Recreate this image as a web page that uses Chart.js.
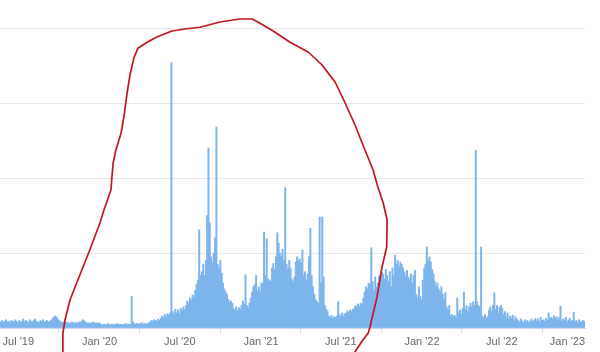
<!DOCTYPE html>
<html><head><meta charset="utf-8">
<script src="https://cdn.jsdelivr.net/npm/chart.js@4.4.0/dist/chart.umd.min.js"></script>
<style>html,body{margin:0;padding:0;background:#fff}#wrap{width:600px;height:352px}</style>
</head><body>
<div id="wrap"><canvas id="c" width="600" height="352"></canvas></div>
<script>
// Day offsets are counted from 1 Jul 2019. Each bar is a 3-day bucket.
const firstBucketCentre = -40;
const bucketDays = 3;

const valsMay19_Jan20 = [8,10,7,9,11,8,9,7,10,9, 8,11,9,7,10,8,9,12,8,10, 9,7,11,9,8,10,12,9,8,7, 10,9,11,8,9,10,8,9,
  10,12,14,16,15,13,10,9, 7,8,6,7,8,7,6,7,8,6,7,7,6,8,7, 9,11,10,8, 7,6,7,6,7,8,6,7,6,7,6];
const valsJan20_Aug20 = [5,4,5,5,4,6,5,4,5,5, 4,5,6,4,5,5,4,5,5,6, 4,5,5, 42,
  8,6,5,6,5,6,5,7,5,6,5,6,7, 8,10,9,11,10,9,12,10, 13,16,14,18,15,19,17,20, 354,
  22,18,25,20,24,19,26,23,28,25, 30,36,33,40,37,44,41, 50,58,64,131,70];
const valsAug20_Mar21 = [75,85,70,90,150,240,140,95,88,100, 120,268,85,80,90,73,60,52,48,45,
  38,34,36,33,26,24,28,23,27,25, 30,36,32,71,30,27,33,40,48,55, 58,70,50,55,48,60,60,128,70,119,
  65,64,62,80,86,78,95,127,113,100, 95,105,90,187,85,78,90,80,65,62, 68,88,95,90,92];
const valsApr21_Nov21 = [87,104,70,75,64,72,95,133,70,55, 45,38,35,33,148,60,148,68,30,25,
  22,16,14,17,13,15,14,16,35,18, 15,20,16,19,20,23,21,24,22,25, 26,30,28,32,29,33,31,40,48,55,
  52,60,58,107,62,50,68,55,60,70, 65,75,72,65,78,70,62,75,55,80, 70,97,85,90,82,88];
const valsNov21_Jun22 = [85,80,75,70,77,68,65,72,60,70, 77,45,40,55,42,38,64,80,85,108,
  90,95,88,78,72,62,55,60,52,48, 55,45,38,47,28,24,30,16,18,15, 17,14,40,20,24,18,26,48,25,30,
  22,28,33,28,35,30,237,35,30,28, 108,16,14,18,13,15,24,28,22,30, 47,25,30,20,28];
const valsJun22_Jan23 = [30,26, 18,22,14,20,12,16,13,17,11,15,12, 10,8,12,9,7,11,8,10,7,9,12,8,
  10,13,9,12,8,14,10,11,9,13,10,20,12, 14,12,16,13,15,11,14, 29, 9,12,10,14,8,11,13,9,10, 21,
  8,10,7,11,9,8,10,9];

const tickMonths = [[2019,6],[2020,0],[2020,6],[2021,0],[2021,6],[2022,0],[2022,6],[2023,0]];
const tickLabels = ["Jul '19","Jan '20","Jul '20","Jan '21","Jul '21","Jan '22","Jul '22","Jan '23"];
const yMax = 400, yStep = 100;

// Hand-drawn red loop annotation, in data units [day offset, value]
const annotationPath = [[101,-32],[101,-7],[106,11],[117,37],[133,61],[162,104],[185,140],[194,157],
  [210,184],[212,200],[215,220],[221,237],[233,260],[240,284],[246,311],[253,337],[262,360],[271,373],
  [292,381],[314,388],[348,396],[382,399],[412,401],[457,408],[502,412],[530,412],[543,408],[575,397],
  [616,381],[657,368],[688,351],[718,328],[740,301],[763,271],[786,237],[804,211],[815,188],[827,167],
  [836,144],[835,108],[824,80],[813,41],[797,1],[793,-7],[781,-16],[763,-32]];

const allVals = [].concat(valsMay19_Jan20, valsJan20_Aug20, valsAug20_Mar21, valsApr21_Nov21, valsNov21_Jun22, valsJun22_Jan23);
const points = allVals.map((v,i)=>({x: firstBucketCentre + bucketDays*i, y: v}));
const base = Date.UTC(2019,6,1);
const tickDays = tickMonths.map(([y,m])=>Math.round((Date.UTC(y,m,1)-base)/864e5));
const xMin = firstBucketCentre - bucketDays/2;
const xMax = firstBucketCentre + bucketDays*(allVals.length-1) + bucketDays/2;

const overlay = {
  id: 'overlay',
  afterDraw(chart) {
    const {ctx, chartArea, scales:{x, y}} = chart;
    ctx.save();
    ctx.font = '11px "Liberation Sans", Arial, sans-serif';
    ctx.fillStyle = '#666666';
    ctx.textBaseline = 'middle';
    tickDays.forEach((d,i)=>{
      const px = x.getPixelForValue(d);
      const w = ctx.measureText(tickLabels[i]).width;
      const left = Math.max(0, Math.min(px - w/2, chartArea.right - w));
      ctx.fillText(tickLabels[i], left, chartArea.bottom + 14);
    });
    ctx.strokeStyle = '#c0161e';
    ctx.lineWidth = 1.7;
    ctx.lineJoin = 'round'; ctx.lineCap = 'round';
    ctx.beginPath();
    annotationPath.forEach(([d,v],i)=>{
      const px = x.getPixelForValue(d), py = y.getPixelForValue(v);
      if (i) ctx.lineTo(px,py); else ctx.moveTo(px,py);
    });
    ctx.stroke();
    ctx.restore();
  }
};

new Chart(document.getElementById('c'), {
  type: 'bar',
  data: { datasets: [{ data: points, backgroundColor: '#7cb5ec', borderWidth: 0,
    barPercentage: 1, categoryPercentage: 1 }] },
  options: {
    responsive: false, animation: false,
    layout: { padding: { top: 28, right: 15, left: 0, bottom: 0 } },
    plugins: { legend: { display: false }, tooltip: { enabled: false } },
    scales: {
      x: { type: 'linear', min: xMin, max: xMax, offset: false,
        afterBuildTicks: s => { s.ticks = tickDays.map(v=>({value:v})); },
        afterFit: s => { s.height = 24; s.paddingLeft = 0; s.paddingRight = 0; },
        ticks: { display: false, autoSkip: false },
        grid: { drawOnChartArea: false, drawTicks: true, tickLength: 5, color: '#ccd6eb' },
        border: { display: true, color: '#ccd6eb' } },
      y: { min: 0, max: yMax,
        afterFit: s => { s.width = 0; },
        ticks: { display: false, stepSize: yStep },
        grid: { color: '#e6e6e6', drawTicks: false },
        border: { display: false } }
    }
  },
  plugins: [overlay]
});
</script>
</body></html>
